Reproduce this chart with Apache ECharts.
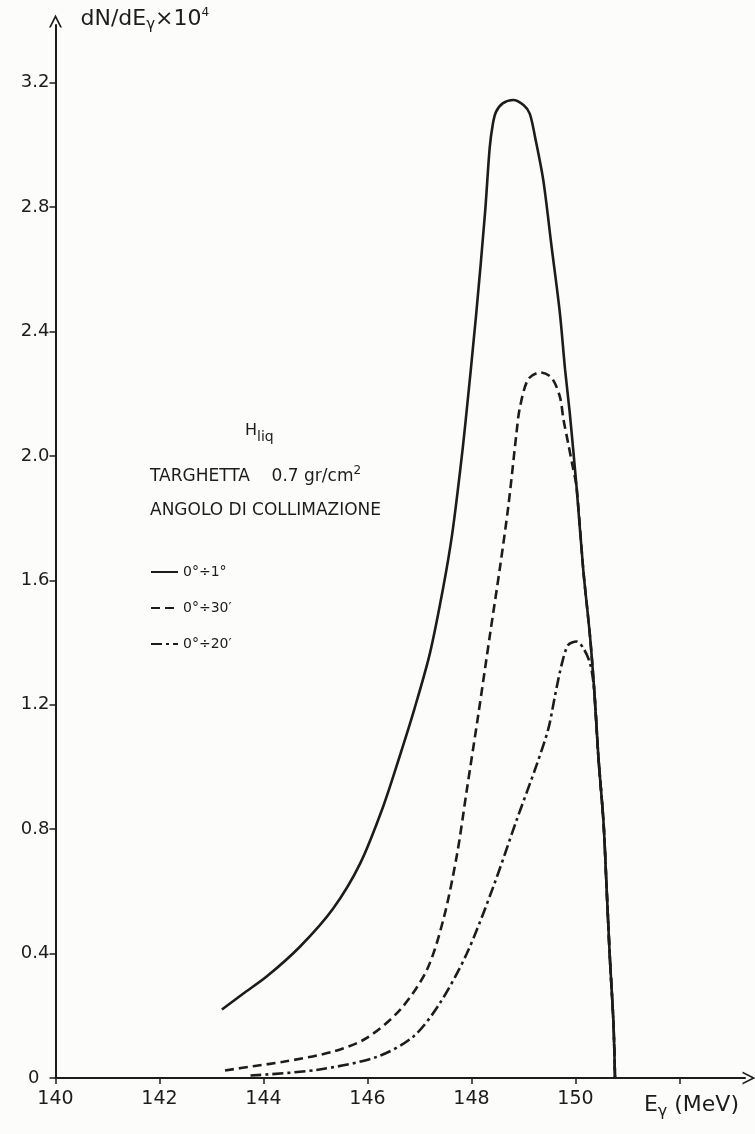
<!DOCTYPE html>
<html>
<head>
<meta charset="utf-8">
<script src="https://cdn.jsdelivr.net/npm/echarts@6/dist/echarts.min.js"></script>
<style>
html,body{margin:0;padding:0;background:#fcfcfb;}
#chart{width:755px;height:1134px;}
</style>
</head>
<body>
<div id="chart"></div>
<script>
// ---- data ----
const xTickValues = [140, 142, 144, 146, 148, 150, 152];
const xLabelValues = [140, 142, 144, 146, 148, 150];
const yTickValues = [0, 0.4, 0.8, 1.2, 1.6, 2.0, 2.4, 2.8, 3.2];
const seriesNames = ['0°÷1°', '0°÷30′', '0°÷20′'];

// 0°÷1° (solid)
const solidE = [143.2, 143.6, 144.06, 144.7, 145.34, 145.86, 146.3, 146.63, 146.9, 147.2, 147.46, 147.63, 147.78, 147.88, 148.09, 148.26, 148.35, 148.41, 148.47, 148.6, 148.8, 149.0, 149.12, 149.22, 149.38, 149.54, 149.7, 149.8, 149.89, 150.02, 150.15, 150.28, 150.36, 150.44, 150.54, 150.6, 150.66, 150.73, 150.76];
const solidV = [0.22, 0.27, 0.326, 0.422, 0.545, 0.69, 0.872, 1.04, 1.185, 1.365, 1.58, 1.75, 1.95, 2.10, 2.455, 2.78, 2.99, 3.066, 3.105, 3.133, 3.144, 3.128, 3.10, 3.027, 2.887, 2.673, 2.459, 2.277, 2.138, 1.901, 1.633, 1.419, 1.248, 1.033, 0.819, 0.605, 0.39, 0.177, 0];

// 0°÷30' (dashed)
const dashE = [143.26, 143.8, 144.38, 145.34, 145.98, 146.63, 147.14, 147.46, 147.72, 147.91, 148.13, 148.36, 148.55, 148.71, 148.87, 148.93, 149.09, 149.32, 149.54, 149.7, 149.77, 149.86, 149.94, 150.02, 150.15, 150.28, 150.36, 150.44, 150.54, 150.6, 150.66, 150.73, 150.76];
const dashV = [0.024, 0.038, 0.052, 0.085, 0.128, 0.22, 0.347, 0.51, 0.717, 0.926, 1.167, 1.43, 1.644, 1.84, 2.08, 2.155, 2.246, 2.268, 2.251, 2.19, 2.116, 2.04, 1.971, 1.901, 1.633, 1.419, 1.248, 1.033, 0.819, 0.605, 0.39, 0.177, 0];

// 0°÷20' (dash-dot)
const dotE = [143.75, 145.02, 146.18, 146.88, 147.39, 147.91, 148.42, 148.87, 149.26, 149.48, 149.61, 149.74, 149.86, 150.02, 150.15, 150.28, 150.36, 150.44, 150.54, 150.6, 150.66, 150.73, 150.76];
const dotV = [0.008, 0.026, 0.068, 0.133, 0.24, 0.40, 0.615, 0.83, 1.01, 1.124, 1.232, 1.333, 1.392, 1.403, 1.382, 1.333, 1.248, 1.033, 0.819, 0.605, 0.39, 0.177, 0];

const zip = (a, b) => a.map((v, i) => [v, b[i]]);
const INK = '#1c1c1c';
const FONT = 'DejaVu Sans';
const chevron = 'path://M50,0 L100,100 L86,100 L50,28 L14,100 L0,100 Z';

const chart = echarts.init(document.getElementById('chart'), null, {renderer: 'canvas'});

function lineSeries(name, data, type) {
  return {
    name: name, type: 'line', data: data,
    showSymbol: false, symbol: 'none',
    smooth: 0.3,
    lineStyle: {color: INK, width: 2.6, type: type},
    itemStyle: {color: INK},
    z: 3
  };
}

chart.setOption({
  backgroundColor: '#fcfcfb',
  animation: false,
  textStyle: {fontFamily: FONT, color: INK},
  grid: {left: 55.5, right: 10, top: 25, bottom: 56, containLabel: false},
  xAxis: {
    type: 'value', min: 140, max: 153.26,
    splitLine: {show: false},
    axisLine: {show: true, lineStyle: {color: INK, width: 2}, symbol: ['none', chevron], symbolSize: [13, 17], symbolOffset: [0, 4]},
    axisTick: {show: true, customValues: xTickValues, length: 6, inside: false, lineStyle: {color: INK, width: 1.5}},
    axisLabel: {customValues: xLabelValues, margin: 12, fontSize: 19, color: INK, fontFamily: FONT,
      formatter: v => String(Math.round(v))},
    name: '{a|E}{s|γ}{a| (MeV)}',
    nameLocation: 'end', nameGap: -6,
    nameTextStyle: {align: 'right', verticalAlign: 'top', padding: [13, 0, 0, 0],
      rich: {a: {fontSize: 22, fontFamily: FONT, color: INK}, s: {fontSize: 16, fontFamily: FONT, color: INK, padding: [13, 0, 0, 0]}}}
  },
  yAxis: {
    type: 'value', min: 0, max: 3.385,
    splitLine: {show: false},
    axisLine: {show: true, lineStyle: {color: INK, width: 2}, symbol: ['none', chevron], symbolSize: [13, 17], symbolOffset: [0, 4]},
    axisTick: {show: true, customValues: yTickValues, length: 6, inside: false, lineStyle: {color: INK, width: 1.5}},
    axisLabel: {customValues: yTickValues, margin: 6, fontSize: 18, color: INK, fontFamily: FONT,
      formatter: v => (v === 0 ? '{z|0}' : v.toFixed(1)),
      rich: {z: {fontSize: 18, fontFamily: FONT, color: INK, padding: [0, 10, 0, 0]}}},
    name: '{a|dN/dE}{s|γ}{a|×10}{p|4}',
    nameLocation: 'end', nameGap: 6,
    nameTextStyle: {align: 'left', verticalAlign: 'middle', padding: [0, 0, 0, 25],
      rich: {a: {fontSize: 22, fontFamily: FONT, color: INK}, s: {fontSize: 15, fontFamily: FONT, color: INK, padding: [13, 0, 0, 0]}, p: {fontSize: 12, fontFamily: FONT, color: INK, padding: [0, 0, 13, 0]}}}
  },
  legend: {
    show: true, orient: 'vertical', left: 150, top: 565, padding: 0,
    itemWidth: 27, itemHeight: 14, itemGap: 22,
    itemStyle: {opacity: 0},
    textStyle: {fontSize: 14, fontFamily: FONT, color: INK},
    data: seriesNames
  },
  graphic: [
    {type: 'text', left: 245, top: 423, style: {text: '{h|H}{s|liq}', rich: {h: {fontSize: 16, fontFamily: FONT, fill: INK}, s: {fontSize: 14, fontFamily: FONT, fill: INK, padding: [13, 0, 0, 0]}}}},
    {type: 'text', left: 150, top: 465, style: {text: '{a|TARGHETTA    0.7 gr/cm}{p|2}', rich: {a: {fontSize: 17, fontFamily: FONT, fill: INK}, p: {fontSize: 12, fontFamily: FONT, fill: INK, padding: [0, 0, 11, 0]}}}},
    {type: 'text', left: 150, top: 502, style: {text: 'ANGOLO DI COLLIMAZIONE', font: '17px "DejaVu Sans"', fill: INK}}
  ],
  series: [
    lineSeries(seriesNames[0], zip(solidE, solidV), 'solid'),
    lineSeries(seriesNames[1], zip(dashE, dashV), [9, 5]),
    lineSeries(seriesNames[2], zip(dotE, dotV), [11, 4, 3, 4])
  ]
});
</script>
</body>
</html>
